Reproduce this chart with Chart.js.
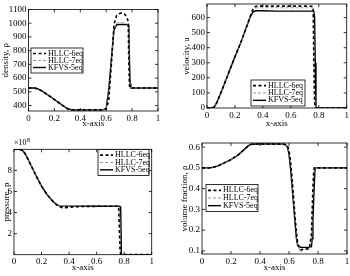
<!DOCTYPE html>
<html>
<head>
<meta charset="utf-8">
<script src="https://cdn.jsdelivr.net/npm/chart.js@4.4.1/dist/chart.umd.min.js"></script>
<style>
    body { margin: 0; background: #fff; }
    #figure { position: relative; width: 350px; height: 276px; background: #fff; }
    #figure canvas { position: absolute; }
</style>
</head>
<body>
<div id="figure">
    <canvas id="density" width="175" height="138" style="left:0;top:0"></canvas>
    <canvas id="velocity" width="175" height="138" style="left:175px;top:0"></canvas>
    <canvas id="pressure" width="175" height="138" style="left:0;top:138px"></canvas>
    <canvas id="volume-fraction" width="175" height="138" style="left:175px;top:138px"></canvas>
</div>
<script>
// Series names and shared x ticks
const seriesNames = ['HLLC-6eq', 'HLLC-7eq', 'KFVS-5eq'];
const xTicks = [0, 0.2, 0.4, 0.6, 0.8, 1];

// Density panel
const densityTicks = [400, 500, 600, 700, 800, 900, 1000, 1100];
const densityX = [0, 0.04, 0.07, 0.1, 0.14, 0.18, 0.22, 0.26, 0.3, 0.33, 0.36, 0.45, 0.55, 0.58, 0.6, 0.62, 0.64, 0.66, 0.68, 0.7, 0.72, 0.74, 0.76, 0.77, 0.775, 0.78, 0.785, 0.79, 0.85, 1];
const densityHllc6 = [528, 528, 522, 508, 483, 457, 430, 403, 377, 369, 368, 368, 368, 369, 374, 440, 700, 990, 1055, 1070, 1075, 1068, 1045, 1010, 700, 540, 528, 528, 528, 528];
const densityHllc7 = [528, 528, 522, 508, 483, 457, 430, 403, 378, 369, 368, 368, 368, 370, 378, 500, 720, 950, 1000, 1005, 1005, 1003, 995, 985, 900, 640, 545, 528, 528, 528];
const densityKfvs = [528, 528, 522, 508, 483, 457, 430, 403, 378, 369, 368, 368, 368, 370, 380, 520, 740, 950, 988, 991, 991, 991, 990, 988, 960, 720, 560, 528, 528, 528];

// Velocity panel
const velocityTicks = [0, 100, 200, 300, 400, 500, 600];
const velocityX = [0, 0.03, 0.05, 0.07, 0.09, 0.12, 0.16, 0.2, 0.24, 0.28, 0.31, 0.33, 0.35, 0.4, 0.5, 0.6, 0.7, 0.75, 0.755, 0.76, 0.765, 0.77, 0.775, 0.78, 0.8, 1];
const velocityHllc6 = [0, 0, 5, 35, 80, 150, 245, 340, 430, 530, 610, 660, 675, 676, 676, 676, 676, 675, 674, 660, 300, 40, 0, 0, 0, 0];
const velocityHllc7 = [0, 0, 5, 35, 80, 150, 245, 340, 430, 530, 608, 650, 664, 665, 665, 665, 665, 665, 664, 660, 500, 150, 0, 0, 0, 0];
const velocityKfvs = [0, 0, 5, 35, 80, 150, 245, 340, 430, 530, 605, 638, 645, 645, 643, 643, 643, 643, 643, 643, 640, 600, 300, 0, 0, 0];

// Pressure panel (x 10^8)
const pressureTicks = [2, 4, 6, 8];
const pressureX = [0, 0.04, 0.06, 0.08, 0.1, 0.13, 0.16, 0.2, 0.24, 0.28, 0.31, 0.33, 0.35, 0.4, 0.45, 0.5, 0.7, 0.755, 0.76, 0.765, 0.77, 0.775, 0.78, 0.8, 1];
const pressureHllc6 = [10, 10, 9.9, 9.6, 9.1, 8.3, 7.5, 6.5, 5.7, 5.1, 4.72, 4.55, 4.45, 4.5, 4.55, 4.58, 4.6, 4.6, 4.5, 2.5, 0.5, 0.02, 0.01, 0.01, 0.01];
const pressureHllc7 = [10, 10, 9.9, 9.6, 9.1, 8.3, 7.5, 6.5, 5.7, 5.1, 4.74, 4.6, 4.56, 4.58, 4.6, 4.6, 4.6, 4.6, 4.58, 4.4, 2.0, 0.3, 0.01, 0.01, 0.01];
const pressureKfvs = [10, 10, 9.9, 9.6, 9.1, 8.3, 7.5, 6.5, 5.7, 5.1, 4.75, 4.63, 4.6, 4.6, 4.6, 4.6, 4.6, 4.6, 4.6, 4.6, 4.58, 4.3, 0.02, 0.01, 0.01];

// Volume fraction panel
const fractionTicks = [0.1, 0.2, 0.3, 0.4, 0.5, 0.6];
const fractionX = [0, 0.05, 0.08, 0.11, 0.15, 0.2, 0.25, 0.29, 0.32, 0.34, 0.4, 0.5, 0.56, 0.58, 0.59, 0.6, 0.61, 0.62, 0.63, 0.64, 0.65, 0.66, 0.68, 0.7, 0.74, 0.755, 0.76, 0.765, 0.77, 0.775, 0.78, 0.8, 1];
const fractionHllc6 = [0.5, 0.5, 0.503, 0.51, 0.523, 0.54, 0.563, 0.588, 0.607, 0.614, 0.615, 0.615, 0.615, 0.613, 0.605, 0.585, 0.535, 0.46, 0.37, 0.28, 0.195, 0.135, 0.105, 0.108, 0.11, 0.18, 0.3, 0.4, 0.48, 0.5, 0.5, 0.5, 0.5];
const fractionHllc7 = [0.5, 0.5, 0.503, 0.51, 0.523, 0.54, 0.563, 0.588, 0.607, 0.614, 0.615, 0.615, 0.614, 0.611, 0.6, 0.575, 0.515, 0.44, 0.35, 0.26, 0.18, 0.13, 0.095, 0.105, 0.11, 0.15, 0.25, 0.36, 0.45, 0.5, 0.5, 0.5, 0.5];
const fractionKfvs = [0.5, 0.5, 0.503, 0.51, 0.523, 0.54, 0.563, 0.588, 0.607, 0.614, 0.615, 0.615, 0.614, 0.61, 0.598, 0.565, 0.5, 0.42, 0.335, 0.25, 0.165, 0.125, 0.117, 0.117, 0.117, 0.12, 0.16, 0.25, 0.34, 0.43, 0.5, 0.5, 0.5];

const FONT = 'Liberation Serif, Times New Roman, serif';

document.addEventListener('DOMContentLoaded', function() {

    // Line styles per series, matching the matlab-ish look
    const seriesStyles = [
        { borderColor: '#000', borderWidth: 1.6, borderDash: [3, 2.5] },
        { borderColor: '#8c8c8c', borderWidth: 0.9, borderDash: [3, 2] },
        { borderColor: '#000', borderWidth: 1.4, borderDash: [] }
    ];

    /**
     * Box around the plot area plus inward tick marks on all four sides
     */
    const boxTicks = {
        id: 'boxTicks',
        afterDatasetsDraw(chart) {
            const { ctx, chartArea: a, scales: { x, y } } = chart;
            ctx.save();
            ctx.strokeStyle = '#000';
            ctx.lineWidth = 0.8;
            ctx.strokeRect(a.left, a.top, a.right - a.left, a.bottom - a.top);
            ctx.beginPath();
            x.ticks.forEach(t => {
                const px = x.getPixelForValue(t.value);
                ctx.moveTo(px, a.bottom); ctx.lineTo(px, a.bottom - 3);
                ctx.moveTo(px, a.top); ctx.lineTo(px, a.top + 3);
            });
            y.ticks.forEach(t => {
                const py = y.getPixelForValue(t.value);
                ctx.moveTo(a.left, py); ctx.lineTo(a.left + 3, py);
                ctx.moveTo(a.right, py); ctx.lineTo(a.right - 3, py);
            });
            ctx.stroke();
            ctx.restore();
        }
    };

    /**
     * Matlab style legend box drawn inside the axes
     */
    const boxLegend = {
        id: 'boxLegend',
        afterDraw(chart, args, opts) {
            if (!opts || opts.x === undefined) return;
            const ctx = chart.ctx;
            ctx.save();
            ctx.fillStyle = '#fff';
            ctx.fillRect(opts.x, opts.y, opts.w, opts.h);
            ctx.strokeStyle = '#000';
            ctx.lineWidth = 0.8;
            ctx.strokeRect(opts.x, opts.y, opts.w, opts.h);
            ctx.font = '8px ' + FONT;
            ctx.textBaseline = 'middle';
            const rowH = (opts.h - 4) / 3;
            chart.data.datasets.forEach((ds, i) => {
                const cy = opts.y + 2 + rowH * (i + 0.5);
                ctx.strokeStyle = ds.borderColor;
                ctx.lineWidth = ds.borderWidth;
                ctx.setLineDash(ds.borderDash);
                ctx.beginPath();
                ctx.moveTo(opts.x + 2, cy);
                ctx.lineTo(opts.x + 15, cy);
                ctx.stroke();
                ctx.setLineDash([]);
                ctx.fillStyle = '#000';
                ctx.fillText(ds.label, opts.x + 17, cy);
            });
            ctx.restore();
        }
    };

    /**
     * Exponent marker above the y axis (pressure panel)
     */
    const expLabel = {
        id: 'expLabel',
        afterDraw(chart, args, opts) {
            if (!opts || !opts.text) return;
            const ctx = chart.ctx;
            ctx.save();
            ctx.fillStyle = '#000';
            ctx.textBaseline = 'alphabetic';
            ctx.font = '8px ' + FONT;
            ctx.fillText(opts.text, opts.x, opts.y);
            const w = ctx.measureText(opts.text).width;
            ctx.font = '6px ' + FONT;
            ctx.fillText(opts.sup, opts.x + w + 0.5, opts.y - 3);
            ctx.restore();
        }
    };

    /**
     * Build one panel
     * @param {string} id - canvas id
     * @param {object} p - panel settings
     */
    function makePanel(id, p) {
        const datasets = p.series.map((ys, i) => ({
            label: seriesNames[i],
            data: p.xs.map((x, j) => ({ x: x, y: ys[j] })),
            borderColor: seriesStyles[i].borderColor,
            borderWidth: seriesStyles[i].borderWidth,
            borderDash: seriesStyles[i].borderDash,
            pointRadius: 0,
            tension: 0,
            fill: false
        }));
        const tickFont = { family: FONT, size: 9 };
        return new Chart(document.getElementById(id), {
            type: 'line',
            data: { datasets: datasets },
            plugins: [boxTicks, boxLegend, expLabel],
            options: {
                responsive: false,
                animation: false,
                layout: { padding: p.padding },
                plugins: {
                    legend: { display: false },
                    tooltip: { enabled: false },
                    boxLegend: p.legend,
                    expLabel: p.exp || {}
                },
                scales: {
                    x: {
                        type: 'linear',
                        min: 0,
                        max: 1,
                        grid: { display: false, drawTicks: false },
                        border: { display: false },
                        afterBuildTicks: s => { s.ticks = xTicks.map(v => ({ value: v })); },
                        afterFit: s => { s.height = p.xHeight; s.paddingLeft = 0; s.paddingRight = 0; },
                        ticks: {
                            font: tickFont,
                            color: '#000',
                            padding: 2,
                            maxRotation: 0,
                            callback: v => String(v)
                        },
                        title: {
                            display: true,
                            text: 'x-axis',
                            font: tickFont,
                            color: '#000',
                            padding: { top: 0, bottom: p.xTitlePad }
                        }
                    },
                    y: {
                        type: 'linear',
                        min: p.yMin,
                        max: p.yMax,
                        grid: { display: false, drawTicks: false },
                        border: { display: false },
                        afterBuildTicks: s => { s.ticks = p.yTicks.map(v => ({ value: v })); },
                        afterFit: s => { s.width = p.yWidth; s.paddingTop = 0; s.paddingBottom = 0; },
                        ticks: {
                            font: tickFont,
                            color: '#000',
                            padding: 2,
                            callback: v => String(v)
                        },
                        title: {
                            display: true,
                            text: p.yTitle,
                            font: tickFont,
                            color: '#000',
                            padding: { top: p.yTitlePad, bottom: 0 }
                        }
                    }
                }
            }
        });
    }

    makePanel('density', {
        xs: densityX,
        series: [densityHllc6, densityHllc7, densityKfvs],
        yTicks: densityTicks, yMin: 360, yMax: 1100,
        yTitle: 'density, ρ',
        padding: { left: 0, right: 17, top: 9.5, bottom: 0 },
        yWidth: 28.5, xHeight: 27, yTitlePad: 0, xTitlePad: 8.6,
        legend: { x: 31, y: 48, w: 52, h: 25 }
    });

    makePanel('velocity', {
        xs: velocityX,
        series: [velocityHllc6, velocityHllc7, velocityKfvs],
        yTicks: velocityTicks, yMin: 0, yMax: 690,
        yTitle: 'velocity, u',
        padding: { left: 0, right: 3.3, top: 4, bottom: 0 },
        yWidth: 32, xHeight: 30, yTitlePad: 6.6, xTitlePad: 9.3,
        legend: { x: 76, y: 80, w: 54, h: 26 }
    });

    makePanel('pressure', {
        xs: pressureX,
        series: [pressureHllc6, pressureHllc7, pressureKfvs],
        yTicks: pressureTicks, yMin: 0, yMax: 10,
        yTitle: 'pressure, p',
        padding: { left: 0, right: 23.3, top: 11.3, bottom: 0 },
        yWidth: 14, xHeight: 21.3, yTitlePad: 1.6, xTitlePad: 2.6,
        legend: { x: 98, y: 11.5, w: 51, h: 26 },
        exp: { text: '×10', sup: '8', x: 14, y: 7 }
    });

    makePanel('volume-fraction', {
        xs: fractionX,
        series: [fractionHllc6, fractionHllc7, fractionKfvs],
        yTicks: fractionTicks, yMin: 0.085, yMax: 0.62,
        yTitle: 'volume fraction, ρ',
        padding: { left: 0, right: 3, top: 5, bottom: 0 },
        yWidth: 27, xHeight: 22, yTitlePad: 4.6, xTitlePad: 2.6,
        legend: { x: 31, y: 46.5, w: 52, h: 27 }
    });
});
</script>
</body>
</html>
